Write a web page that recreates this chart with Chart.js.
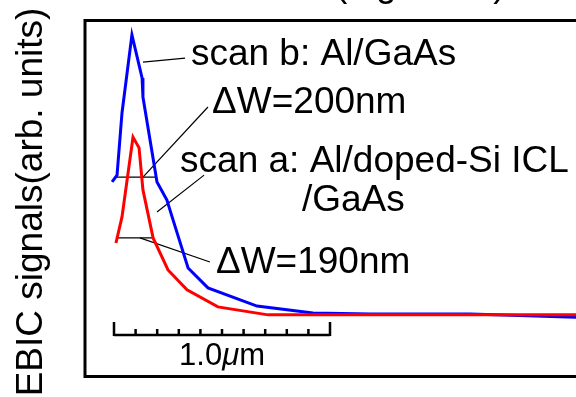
<!DOCTYPE html>
<html>
<head>
<meta charset="utf-8">
<script src="https://cdn.jsdelivr.net/npm/chart.js@4"></script>
<style>
  html, body { margin: 0; padding: 0; background: #fff; }
  #wrap { width: 576px; height: 397px; }
</style>
</head>
<body>
<div id="wrap"><canvas id="chart-area"></canvas></div>
<script>
// position across the sample (um) and EBIC signal (arb. units)
var scanA_x = [0.009, 0.037, 0.088, 0.116, 0.134, 0.181, 0.250, 0.338, 0.481, 0.713, 1.046, 2.139];
var scanA_y = [2.57, 3.49, 6.30, 5.92, 4.44, 2.75, 1.62, 0.92, 0.32, 0.04, 0.04, 0.04];
var scanB_x = [-0.009, 0.014, 0.037, 0.083, 0.130, 0.134, 0.199, 0.245, 0.269, 0.343, 0.435, 0.662, 0.921, 1.185, 1.648, 2.139];
var scanB_y = [4.72, 4.96, 7.15, 9.9, 8.38, 7.71, 4.72, 4.08, 3.49, 1.69, 0.99, 0.35, 0.11, 0.07, 0.07, -0.04];

// half maximum widths
var fwhmA = {x1: 0.009, x2: 0.181, y: 2.75};
var fwhmB = {x1: 0.009, x2: 0.199, y: 4.89};

// scale bar: 1.0 um with 0.1 um divisions
var barTicks = [0, 0.1, 0.2, 0.3, 0.4, 0.5, 0.6, 0.7, 0.8, 0.9, 1.0];

// labels: text, anchor (data), leader line from -> to (data)
var notes = [
    {text: 'scan b: Al/GaAs', x: 0.356, y: 8.84, from: [0.134, 8.94], to: [0.329, 9.08]},
    {text: '\u0394W=200nm', x: 0.454, y: 7.15, from: [0.134, 4.89], to: [0.435, 7.36]},
    {text: 'scan a: Al/doped-Si ICL', x: 0.306, y: 5.07, from: [0.199, 3.66], to: [0.417, 4.96]},
    {text: '/GaAs', x: 0.870, y: 3.70, from: null, to: null},
    {text: '\u0394W=190nm', x: 0.472, y: 1.51, from: [0.120, 2.75], to: [0.444, 1.90]}
];

var FONT = '"Liberation Sans", Arial, Helvetica, sans-serif';

var toPts = function (xs, ys) {
    return xs.map(function (v, i) { return {x: v, y: ys[i]}; });
};

var decorPlugin = {
    id: 'decor',
    beforeDatasetsDraw: function (chart) {
        var ctx = chart.ctx;
        var xs = chart.scales.x, ys = chart.scales.y;
        ctx.save();
        // frame
        ctx.strokeStyle = '#000';
        ctx.lineWidth = 3;
        ctx.strokeRect(85, 20.5, 600, 356);
        // half maximum lines and leaders
        ctx.lineWidth = 1.2;
        [fwhmA, fwhmB].forEach(function (f) {
            ctx.beginPath();
            ctx.moveTo(xs.getPixelForValue(f.x1), ys.getPixelForValue(f.y));
            ctx.lineTo(xs.getPixelForValue(f.x2), ys.getPixelForValue(f.y));
            ctx.stroke();
        });
        notes.forEach(function (n) {
            if (!n.from) return;
            ctx.beginPath();
            ctx.moveTo(xs.getPixelForValue(n.from[0]), ys.getPixelForValue(n.from[1]));
            ctx.lineTo(xs.getPixelForValue(n.to[0]), ys.getPixelForValue(n.to[1]));
            ctx.stroke();
        });
        ctx.restore();
    },
    afterDatasetsDraw: function (chart) {
        var ctx = chart.ctx;
        var xs = chart.scales.x, ys = chart.scales.y;
        ctx.save();
        ctx.fillStyle = '#000';
        ctx.textBaseline = 'alphabetic';
        ctx.textAlign = 'left';
        ctx.font = '37px ' + FONT;
        notes.forEach(function (n) {
            ctx.fillText(n.text, xs.getPixelForValue(n.x), ys.getPixelForValue(n.y));
        });
        // cut-off heading above the frame
        ctx.fillText('(log scale)', 335, -4);

        // scale bar
        var by = 335;
        var x0 = xs.getPixelForValue(barTicks[0]);
        var x1 = xs.getPixelForValue(barTicks[barTicks.length - 1]);
        ctx.strokeStyle = '#000';
        ctx.lineWidth = 2.5;
        ctx.beginPath();
        ctx.moveTo(x0, by);
        ctx.lineTo(x1, by);
        barTicks.forEach(function (t, i) {
            var px = xs.getPixelForValue(t);
            var h = (i === 0 || i === barTicks.length - 1) ? 13 : 6;
            ctx.moveTo(px, by + 1);
            ctx.lineTo(px, by - h);
        });
        ctx.stroke();
        // 1.0 um label
        var parts = [['1.0', 'normal'], ['\u03bc', 'italic'], ['m', 'normal']];
        var fs = 31;
        var total = 0;
        parts.forEach(function (p) {
            ctx.font = p[1] + ' ' + fs + 'px ' + FONT;
            total += ctx.measureText(p[0]).width;
        });
        var lx = (x0 + x1) / 2 - total / 2;
        parts.forEach(function (p) {
            ctx.font = p[1] + ' ' + fs + 'px ' + FONT;
            ctx.fillText(p[0], lx, 365);
            lx += ctx.measureText(p[0]).width;
        });

        // y title
        ctx.translate(42, 202);
        ctx.rotate(-Math.PI / 2);
        ctx.textAlign = 'center';
        ctx.font = '37px ' + FONT;
        ctx.fillText('EBIC signals(arb. units)', 0, 0);
        ctx.restore();
    }
};

var config = {
    type: 'line',
    data: {
        datasets: [{
            label: 'scan a: Al/doped-Si ICL/GaAs',
            data: toPts(scanA_x, scanA_y),
            borderColor: '#ff0000',
            borderWidth: 3,
            pointRadius: 0,
            tension: 0,
            fill: false
        }, {
            label: 'scan b: Al/GaAs',
            data: toPts(scanB_x, scanB_y),
            borderColor: '#0000ff',
            borderWidth: 3,
            pointRadius: 0,
            tension: 0,
            fill: false
        }]
    },
    options: {
        responsive: true,
        maintainAspectRatio: false,
        animation: false,
        layout: {padding: 0},
        plugins: {legend: {display: false}, tooltip: {enabled: false}},
        scales: {
            x: {type: 'linear', min: -0.5278, max: 2.1389, display: false},
            y: {type: 'linear', min: -2.852, max: 11.127, display: false}
        }
    },
    plugins: [decorPlugin]
};

var ctx = document.getElementById('chart-area').getContext('2d');
new Chart(ctx, config);
</script>
</body>
</html>
